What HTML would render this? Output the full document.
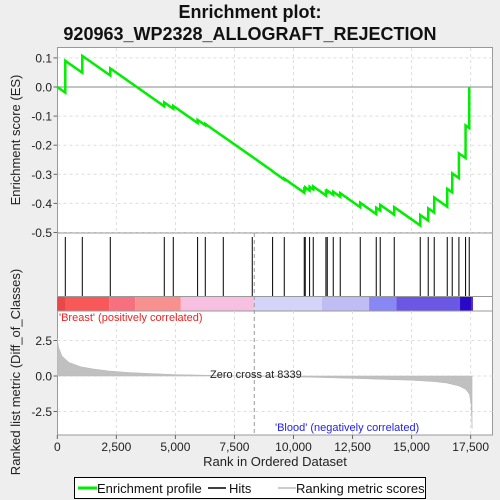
<!DOCTYPE html>
<html><head><meta charset="utf-8"><style>
body{margin:0;background:#eeeeee;}
svg{display:block;font-family:"Liberation Sans",sans-serif;}
</style></head><body>
<svg id="c" width="500" height="500" xmlns="http://www.w3.org/2000/svg">
<text x="250" y="18" text-anchor="middle" font-size="18" font-weight="bold" fill="#111">Enrichment plot:</text>
<text x="250" y="40" text-anchor="middle" font-size="18" font-weight="bold" fill="#111">920963_WP2328_ALLOGRAFT_REJECTION</text>
<g id="topG"></g>
<g id="hitsG"></g>
<g id="botG"></g>
<g>
<rect x="74.5" y="477.5" width="351" height="21" fill="#fff" stroke="#000"/>
<line x1="78" y1="488" x2="97" y2="488" stroke="#00ee00" stroke-width="3"/>
<text x="97" y="493" font-size="13" fill="#111">Enrichment profile</text>
<line x1="208" y1="488" x2="226" y2="488" stroke="#000" stroke-width="1.5"/>
<text x="229" y="493" font-size="13" fill="#111">Hits</text>
<line x1="278" y1="488" x2="296" y2="488" stroke="#bbb" stroke-width="1.5"/>
<text x="296" y="493" font-size="13" fill="#111">Ranking metric scores</text>
</g>
</svg>
<script>
const hitRanks=[339,1058,2243,4529,4910,5940,6265,7027,8254,9115,9609,10455,10497,10681,10836,11373,11429,11683,11979,12826,13503,13672,14265,15366,15704,15958,16509,16720,17003,17285,17440];
const esPeaks=[0.09,0.107,0.064,-0.053,-0.065,-0.113,-0.127,-0.17,-0.24,-0.29,-0.315,-0.35,-0.345,-0.343,-0.342,-0.358,-0.356,-0.36,-0.365,-0.398,-0.415,-0.405,-0.413,-0.44,-0.417,-0.38,-0.35,-0.297,-0.228,-0.132,0.0];
const missSlope=5.7e-5;
const metricRanks=[0,60,200,500,1000,1500,2200,3000,4000,5000,6500,8339,10000,11000,12500,14000,15000,16000,16500,17000,17300,17450,17520,17545,17560];
const metricVals=[2.6,2.0,1.4,0.95,0.65,0.5,0.35,0.25,0.17,0.1,0.05,0,-0.06,-0.1,-0.17,-0.25,-0.3,-0.4,-0.5,-0.7,-0.95,-1.3,-2.0,-3.0,-3.7];
const xTicks=[0,2500,5000,7500,10000,12500,15000,17500];
const xTickLabels=["0","2,500","5,000","7,500","10,000","12,500","15,000","17,500"];
const esTicks=[0.1,0.0,-0.1,-0.2,-0.3,-0.4,-0.5];
const esTickLabels=["0.1","0.0","-0.1","-0.2","-0.3","-0.4","-0.5"];
const mTicks=[2.5,0,-2.5];
const mTickLabels=["2.5","0.0","-2.5"];
const bandStarts=[0,350,2200,3300,5230,8339,11200,13200,14350,17050,17540];
const bandColors=["#e84848","#f85858","#f87080","#f89090","#f8c0e0","#d4d4f8","#c0bcf4","#8888f4","#6a58e4","#2a08c8","#6030b8"];
const NS="http://www.w3.org/2000/svg";
const L=57.5,R=492.5,N=17560;
const X=r=>57.3+r*0.02362;
const ES=v=>87-v*291;
const M=v=>376-v*14.2;
function el(p,t,a){const e=document.createElementNS(NS,t);for(const k in a)e.setAttribute(k,a[k]);p.appendChild(e);return e;}
const topG=document.getElementById('topG'),hitsG=document.getElementById('hitsG'),botG=document.getElementById('botG');
let r=el(topG,'rect',{x:L,y:47.5,width:R-L,height:185.5,fill:'#fff',stroke:'#999'});


xTicks.forEach(t=>{if(t>0){let g=el(topG,'line',{x1:X(t),x2:X(t),y1:48,y2:233,stroke:'#ddd','stroke-dasharray':'3,3'});

}});
esTicks.forEach((t,i)=>{let g=el(topG,'line',{x1:L,x2:R,y1:ES(t),y2:ES(t),stroke:t===0?'#888':'#ddd','stroke-dasharray':t===0?'':'3,3'});


let tx=el(topG,'text',{x:52,y:ES(t)+4.5,'text-anchor':'end','font-size':12,fill:'#222'});tx.textContent=esTickLabels[i];


el(topG,'line',{x1:L-4,x2:L,y1:ES(t),y2:ES(t),stroke:'#666'});});
let yl=el(topG,'text',{transform:'translate(20,140) rotate(-90)','text-anchor':'middle','font-size':13,fill:'#222'});yl.textContent='Enrichment score (ES)';


let pts=[[0,0]],prevR=0,prevV=0;
hitRanks.forEach((h,i)=>{const before=prevV-(h-prevR)*missSlope;pts.push([h,before]);pts.push([h,esPeaks[i]]);prevR=h;prevV=esPeaks[i];});
let pl=el(topG,'polyline',{points:pts.map(p=>X(p[0])+','+ES(p[1])).join(' '),fill:'none',stroke:'#00ee00','stroke-width':2.5});


r=el(hitsG,'rect',{x:L,y:233,width:R-L,height:78,fill:'#fff',stroke:'#999'});


hitRanks.forEach(h=>{let l=el(hitsG,'line',{x1:X(h),x2:X(h),y1:237,y2:296.5,stroke:'#000','stroke-width':1});

});
bandStarts.forEach((s,i)=>{const e=i+1<bandStarts.length?bandStarts[i+1]:N+40;let b=el(hitsG,'rect',{x:X(s),y:297,width:X(e)-X(s),height:14,fill:bandColors[i]});

});
el(hitsG,'line',{x1:L,x2:R,y1:296.5,y2:296.5,stroke:'#999'});
r=el(botG,'rect',{x:L,y:311,width:R-L,height:124,fill:'#fff',stroke:'#999'});


xTicks.forEach((t,i)=>{if(t>0){let g=el(botG,'line',{x1:X(t),x2:X(t),y1:311,y2:435,stroke:'#ddd','stroke-dasharray':'3,3'});

}
el(botG,'line',{x1:X(t),x2:X(t),y1:435,y2:439,stroke:'#666'});
let tx=el(botG,'text',{x:X(t),y:451,'text-anchor':'middle','font-size':12,fill:'#222'});tx.textContent=xTickLabels[i];

});
mTicks.forEach((t,i)=>{let g=el(botG,'line',{x1:L,x2:R,y1:M(t),y2:M(t),stroke:'#ddd','stroke-dasharray':'3,3'});


el(botG,'line',{x1:L-4,x2:L,y1:M(t),y2:M(t),stroke:'#666'});
let tx=el(botG,'text',{x:52,y:M(t)+4.5,'text-anchor':'end','font-size':12,fill:'#222'});tx.textContent=mTickLabels[i];

});
let ap='M'+X(0)+','+M(0)+' '+metricRanks.map((rk,i)=>'L'+X(rk)+','+M(metricVals[i])).join(' ')+' L'+X(N)+','+M(0)+'Z';
let area=el(botG,'path',{d:ap,fill:'#c0c0c0',stroke:'#b8b8b8','stroke-width':0.5});


let zl=el(botG,'line',{x1:X(8339),x2:X(8339),y1:233,y2:435,stroke:'#999','stroke-dasharray':'4,3'});


let zt=el(botG,'text',{x:210,y:378,'font-size':11,fill:'#222'});zt.textContent='Zero cross at 8339';


let bt=el(botG,'text',{x:59,y:321,'font-size':11,fill:'#ee2222'});bt.textContent="'Breast' (positively correlated)";


let bl=el(botG,'text',{x:275,y:431,'font-size':11,fill:'#2222ee'});bl.textContent="'Blood' (negatively correlated)";


let ml=el(botG,'text',{transform:'translate(20,372) rotate(-90)','text-anchor':'middle','font-size':13,fill:'#222'});ml.textContent='Ranked list metric (Diff_of_Classes)';


let xl=el(botG,'text',{x:275,y:466,'text-anchor':'middle','font-size':13,fill:'#222'});xl.textContent='Rank in Ordered Dataset';


</script>
</body></html>
